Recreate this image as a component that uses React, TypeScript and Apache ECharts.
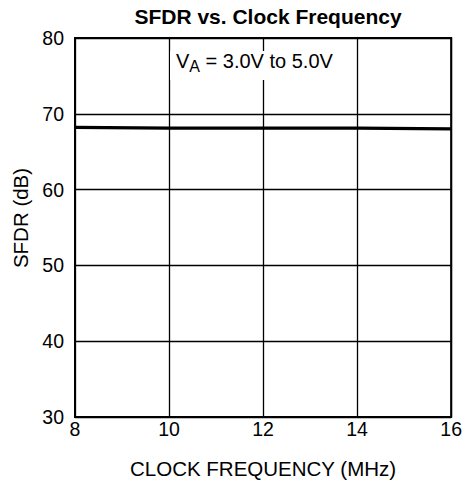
import React, { useEffect, useRef } from "react";
import * as echarts from "echarts";

const clockFreq = [8, 10, 12, 14, 16];
const sfdr = [68.2, 68.1, 68.1, 68.1, 68.0];
const xTicks = { min: 8, max: 16, interval: 2 };
const yTicks = { min: 30, max: 80, interval: 10 };

const FONT = "Liberation Sans, Arial, sans-serif";

export default function App() {
  const ref = useRef<HTMLDivElement>(null);
  useEffect(() => {
    document.body.style.margin = "0";
    if (!ref.current) return;
    const chart = echarts.init(ref.current, undefined, { renderer: "svg" });
    chart.setOption({
      animation: false,
      backgroundColor: "#fff",
      title: {
        text: "SFDR vs. Clock Frequency",
        left: 263,
        textAlign: "center",
        top: 1,
        textStyle: { fontFamily: FONT, fontSize: 21, fontWeight: "bold", color: "#000" },
      },
      grid: {
        left: 75,
        right: 12,
        top: 38,
        bottom: 68,
        show: true,
        borderColor: "#000",
        borderWidth: 2,
        backgroundColor: "transparent",
      },
      xAxis: {
        type: "value",
        min: xTicks.min,
        max: xTicks.max,
        interval: xTicks.interval,
        name: "CLOCK FREQUENCY (MHz)",
        nameLocation: "middle",
        nameGap: 41,
        nameTextStyle: { fontFamily: FONT, fontSize: 20.5, color: "#000" },
        axisLine: { show: true, lineStyle: { color: "#000", width: 2 } },
        axisTick: { show: false },
        axisLabel: { fontFamily: FONT, fontSize: 19.5, color: "#000", margin: 2 },
        splitLine: { show: true, lineStyle: { color: "#000", width: 1.3 } },
      },
      yAxis: {
        type: "value",
        min: yTicks.min,
        max: yTicks.max,
        interval: yTicks.interval,
        name: "SFDR (dB)",
        nameLocation: "middle",
        nameGap: 44,
        nameTextStyle: { fontFamily: FONT, fontSize: 20.5, color: "#000", padding: [0, 0, 0, 19] },
        axisLine: { show: true, lineStyle: { color: "#000", width: 2 } },
        axisTick: { show: false },
        axisLabel: { fontFamily: FONT, fontSize: 19.5, color: "#000", margin: 11 },
        splitLine: { show: true, lineStyle: { color: "#000", width: 1.3 } },
      },
      series: [
        {
          type: "line",
          data: clockFreq.map((f, i) => [f, sfdr[i]]),
          symbol: "none",
          lineStyle: { color: "#000", width: 3.2 },
          z: 3,
        },
      ],
      graphic: [
        {
          type: "rect",
          shape: { x: 170, y: 51, width: 176, height: 29 },
          style: { fill: "#fff" },
          z: 10,
        },
        {
          type: "text",
          x: 176,
          y: 47,
          z: 11,
          style: {
            text: "V{sub|A} = 3.0V to 5.0V",
            fontFamily: FONT,
            fontSize: 20,
            fill: "#000",
            rich: {
              sub: { fontFamily: FONT, fontSize: 16, verticalAlign: "bottom", padding: [11, 0, 0, 0] },
            },
          },
        },
      ],
    });
    return () => chart.dispose();
  }, []);
  return <div ref={ref} style={{ width: 465, height: 485 }} />;
}
